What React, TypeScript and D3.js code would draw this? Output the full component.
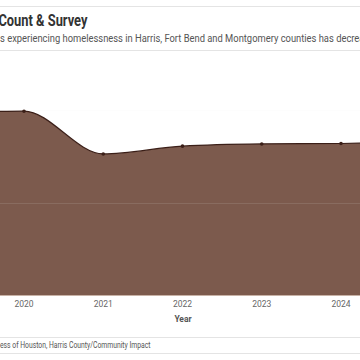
import React, { useRef, useEffect } from "react";
import * as d3 from "d3";

// Point-in-time homeless counts (Harris, Fort Bend, Montgomery)
const years = [2019, 2020, 2021, 2022, 2023, 2024, 2025];
const counts = [3938, 3974, 3055, 3223, 3270, 3280, 3310];
const gridValues = [0, 2000, 4000];
const tickYears = [2020, 2021, 2022, 2023, 2024];

const App = () => {
  const ref = useRef<SVGSVGElement | null>(null);

  useEffect(() => {
    const width = 360;
    const svg = d3.select(ref.current);
    svg.selectAll("*").remove();

    const x = d3.scaleLinear().domain([2020, 2024]).range([24, 341]);
    const y = d3.scaleLinear().domain([0, 4000]).range([296, 110]);

    const data = years.map((yr, i) => ({ yr, v: counts[i] }));

    // header
    svg.append("line").attr("x1", 0).attr("x2", width).attr("y1", 6.5).attr("y2", 6.5)
      .attr("stroke", "#e4e4e4");
    svg.append("text").attr("x", -2).attr("y", 26)
      .attr("font-family", "Roboto").attr("font-weight", "bold").attr("font-size", 16.5)
      .attr("fill", "#333").attr("transform", "scale(0.78,1)")
      .text("Count & Survey");
    svg.append("text").attr("x", 0).attr("y", 42)
      .attr("font-family", "Roboto").attr("font-size", 11.5).attr("fill", "#555")
      .attr("transform", "scale(0.815,1)")
      .text("s experiencing homelessness in Harris, Fort Bend and Montgomery counties has decreased");
    svg.append("line").attr("x1", 0).attr("x2", width).attr("y1", 50.5).attr("y2", 50.5)
      .attr("stroke", "#e4e4e4");

    // area + line
    const area = d3.area<any>().x((d) => x(d.yr)).y0(y(0)).y1((d) => y(d.v))
      .curve(d3.curveMonotoneX);
    const line = d3.line<any>().x((d) => x(d.yr)).y((d) => y(d.v))
      .curve(d3.curveMonotoneX);

    svg.append("path").datum(data).attr("d", area).attr("fill", "#7c5a4d");

    svg.append("g").selectAll("line").data(gridValues.slice(1)).join("line")
      .attr("x1", 0).attr("x2", width)
      .attr("y1", (d) => y(d) + 0.5).attr("y2", (d) => y(d) + 0.5)
      .attr("stroke", "#eeeeee").attr("stroke-opacity", 0.12);

    svg.append("path").datum(data).attr("d", line).attr("fill", "none")
      .attr("stroke", "#3b1f18").attr("stroke-width", 1.2);

    svg.append("g").selectAll("circle").data(data).join("circle")
      .attr("cx", (d) => x(d.yr)).attr("cy", (d) => y(d.v)).attr("r", 1.8)
      .attr("fill", "#3b1f18");

    // baseline
    svg.append("line").attr("x1", 0).attr("x2", width)
      .attr("y1", y(0) - 0.5).attr("y2", y(0) - 0.5)
      .attr("stroke", "#c8b2a6").attr("stroke-width", 1);

    // x axis labels
    svg.append("g").selectAll("text").data(tickYears).join("text")
      .attr("x", (d) => x(d)).attr("y", 307)
      .attr("text-anchor", "middle").attr("font-family", "Roboto")
      .attr("font-size", 8.5).attr("fill", "#666")
      .text((d) => d);

    svg.append("text").attr("x", 183).attr("y", 322)
      .attr("text-anchor", "middle").attr("font-family", "Roboto")
      .attr("font-weight", "bold").attr("font-size", 8.5).attr("fill", "#555")
      .text("Year");

    // footer
    svg.append("line").attr("x1", 0).attr("x2", width).attr("y1", 337.5).attr("y2", 337.5)
      .attr("stroke", "#e4e4e4");
    svg.append("text").attr("x", 0).attr("y", 348)
      .attr("font-family", "Roboto").attr("font-size", 8.5).attr("fill", "#555")
      .attr("transform", "scale(0.8,1)")
      .text("ess of Houston, Harris County/Community Impact");
    svg.append("line").attr("x1", 0).attr("x2", width).attr("y1", 353.5).attr("y2", 353.5)
      .attr("stroke", "#e4e4e4");
  }, []);

  return (
    <svg
      ref={ref}
      width={360}
      height={360}
      style={{ position: "absolute", left: 0, top: 0, background: "#fff" }}
    />
  );
};

export default App;
